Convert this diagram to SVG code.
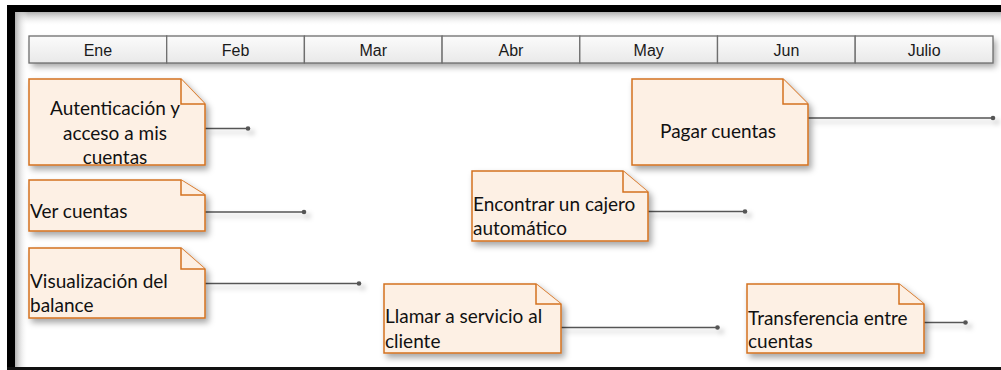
<svg xmlns="http://www.w3.org/2000/svg" width="1001" height="370" viewBox="0 0 1001 370">
<defs>
<linearGradient id="gTop" x1="0" y1="0" x2="0" y2="1">
<stop offset="0" stop-color="#b0b0b0"/><stop offset="1" stop-color="#ffffff" stop-opacity="0"/>
</linearGradient>
<linearGradient id="gLeft" x1="0" y1="0" x2="1" y2="0">
<stop offset="0" stop-color="#b0b0b0"/><stop offset="1" stop-color="#ffffff" stop-opacity="0"/>
</linearGradient>
<linearGradient id="gCell" x1="0" y1="0" x2="0" y2="1">
<stop offset="0" stop-color="#fbfbfb"/><stop offset="1" stop-color="#e9e9e9"/>
</linearGradient>
<filter id="sh" x="-10%" y="-20%" width="130%" height="160%">
<feDropShadow dx="3" dy="4" stdDeviation="3" flood-color="#000" flood-opacity="0.35"/>
</filter>
<filter id="shl" x="-10%" y="-300%" width="130%" height="700%">
<feDropShadow dx="4" dy="4" stdDeviation="2.5" flood-color="#000" flood-opacity="0.25"/>
</filter>
</defs>
<style>
.month{font-family:"Liberation Sans",Arial,sans-serif;font-size:16px;fill:#1a1a1a;text-anchor:middle}
.cell{fill:url(#gCell);stroke:#6e6e6e;stroke-width:1.3}
.note{fill:#fdf0e4;stroke:#d4711f;stroke-width:1.5;stroke-linejoin:miter}
.fold{fill:#fdf0e4;stroke:#d4711f;stroke-width:1.5}
.t{font-family:Lato,"Open Sans",sans-serif;font-size:19px;fill:#111}
.c{text-anchor:middle}
.ln{stroke:#555;stroke-width:1.4;fill:none}
.dot{fill:#555}
</style>
<rect x="0" y="0" width="1001" height="370" fill="#ffffff"/>
<rect x="15" y="12" width="986" height="14" fill="url(#gTop)"/>
<rect x="15" y="12" width="13" height="355" fill="url(#gLeft)"/>
<rect x="7" y="5" width="994" height="7" fill="#000"/>
<rect x="7" y="5" width="8" height="365" fill="#000"/>
<rect x="7" y="367" width="994" height="3" fill="#111"/>

<g id="timeline">
<rect x="29" y="36" width="964" height="27" fill="#fff" filter="url(#sh)"/>
<rect class="cell" x="29" y="36" width="137.7" height="27"/>
<rect class="cell" x="166.7" y="36" width="137.7" height="27"/>
<rect class="cell" x="304.4" y="36" width="137.7" height="27"/>
<rect class="cell" x="442.1" y="36" width="137.7" height="27"/>
<rect class="cell" x="579.8" y="36" width="137.7" height="27"/>
<rect class="cell" x="717.5" y="36" width="137.7" height="27"/>
<rect class="cell" x="855.2" y="36" width="137.8" height="27"/>
<text class="month" x="97.9" y="55.5">Ene</text>
<text class="month" x="235.6" y="55.5">Feb</text>
<text class="month" x="373.3" y="55.5">Mar</text>
<text class="month" x="511" y="55.5">Abr</text>
<text class="month" x="648.7" y="55.5">May</text>
<text class="month" x="786.4" y="55.5">Jun</text>
<text class="month" x="924.1" y="55.5">Julio</text>
</g>

<g id="connectors">
<g filter="url(#shl)">
<line class="ln" x1="205" y1="128.5" x2="248" y2="128.5"/><circle class="dot" cx="248" cy="128.5" r="2.3"/>
<line class="ln" x1="205" y1="212" x2="304" y2="212"/><circle class="dot" cx="304" cy="212" r="2.3"/>
<line class="ln" x1="205" y1="283.5" x2="359" y2="283.5"/><circle class="dot" cx="359" cy="283.5" r="2.3"/>
<line class="ln" x1="647" y1="211.5" x2="745" y2="211.5"/><circle class="dot" cx="745" cy="211.5" r="2.3"/>
<line class="ln" x1="560" y1="327.5" x2="717.5" y2="327.5"/><circle class="dot" cx="717.5" cy="327.5" r="2.3"/>
<line class="ln" x1="808" y1="118" x2="993" y2="118"/><circle class="dot" cx="993" cy="118" r="2.3"/>
<line class="ln" x1="922" y1="322.5" x2="965.5" y2="322.5"/><circle class="dot" cx="965.5" cy="322.5" r="2.3"/>
</g>
</g>

<g id="n1">
<path class="note" filter="url(#sh)" d="M29,79 H181 L205,104 V165 H29 Z"/>
<path class="fold" d="M181,79 V104 H205"/>
<text class="t c" x="115" y="115">Autenticación y</text>
<text class="t c" x="115" y="140">acceso a mis</text>
<text class="t c" x="115" y="164">cuentas</text>
</g>
<g id="n2">
<path class="note" filter="url(#sh)" d="M29,180 H181 L205,195 V231 H29 Z"/>
<path class="fold" d="M181,180 V195 H205"/>
<text class="t" x="30" y="218">Ver cuentas</text>
</g>
<g id="n3">
<path class="note" filter="url(#sh)" d="M29,248 H181 L205,269 V318 H29 Z"/>
<path class="fold" d="M181,248 V269 H205"/>
<text class="t" x="30" y="288">Visualización del</text>
<text class="t" x="30" y="312">balance</text>
</g>
<g id="n4">
<path class="note" filter="url(#sh)" d="M472,171 H623 L648,192 V241 H472 Z"/>
<path class="fold" d="M623,171 V192 H648"/>
<text class="t" x="473" y="211">Encontrar un cajero</text>
<text class="t" x="473" y="235">automático</text>
</g>
<g id="n5">
<path class="note" filter="url(#sh)" d="M384,284 H536 L561,304 V353 H384 Z"/>
<path class="fold" d="M536,284 V304 H561"/>
<text class="t" x="385" y="323">Llamar a servicio al</text>
<text class="t" x="385" y="348">cliente</text>
</g>
<g id="n6">
<path class="note" filter="url(#sh)" d="M632,79 H783 L808,104 V165 H632 Z"/>
<path class="fold" d="M783,79 V104 H808"/>
<text class="t c" x="718" y="138">Pagar cuentas</text>
</g>
<g id="n7">
<path class="note" filter="url(#sh)" d="M747,284 H899 L924,304 V353 H747 Z"/>
<path class="fold" d="M899,284 V304 H924"/>
<text class="t" x="748" y="325">Transferencia entre</text>
<text class="t" x="748" y="348">cuentas</text>
</g>
</svg>
